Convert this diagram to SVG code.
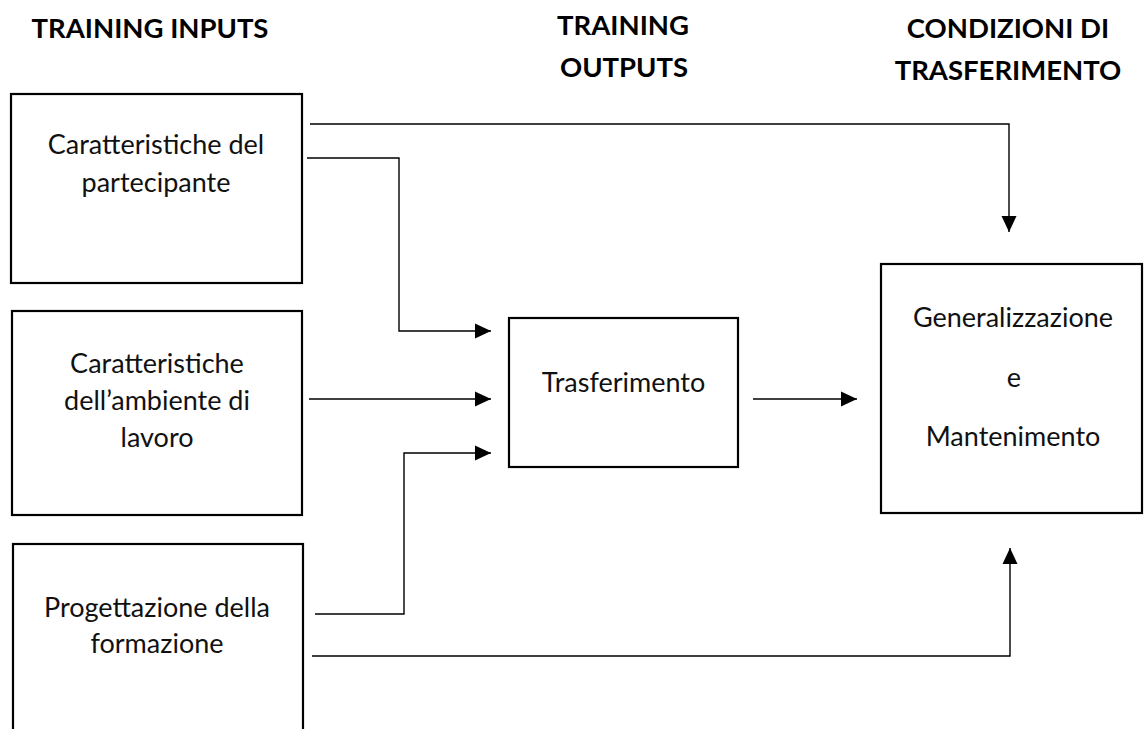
<svg xmlns="http://www.w3.org/2000/svg" width="1144" height="729" viewBox="0 0 1144 729">
<style>
.box{fill:#fff;stroke:#000;stroke-width:2.2}
.con{fill:none;stroke:#000;stroke-width:1.4}
.hdr{font-family:Lato,"Liberation Sans",sans-serif;font-weight:bold;font-size:27.5px;fill:#000;text-anchor:middle}
.lbl{font-family:Lato,"Liberation Sans",sans-serif;font-size:27px;fill:#111;text-anchor:middle}
</style>
<defs>
<marker id="ah" markerUnits="userSpaceOnUse" markerWidth="16" markerHeight="16" viewBox="0 0 16 16" refX="16" refY="8" orient="auto">
<path d="M0,0.5 L16,8 L0,15.5 Z" fill="#000"/>
</marker>
</defs>
<rect width="1144" height="729" fill="#fff"/>
<g id="headers">
<text class="hdr" x="150" y="38">TRAINING INPUTS</text>
<text class="hdr" x="623" y="35">TRAINING</text>
<text class="hdr" x="624" y="77">OUTPUTS</text>
<text class="hdr" x="1008" y="38">CONDIZIONI DI</text>
<text class="hdr" x="1008" y="80">TRASFERIMENTO</text>
</g>
<g id="connectors">
<path class="con" d="M310,124 H1009 V232" marker-end="url(#ah)"/>
<path class="con" d="M307,158 H399 V331 H491" marker-end="url(#ah)"/>
<path class="con" d="M309,399 H491" marker-end="url(#ah)"/>
<path class="con" d="M315,614 H404 V453 H491" marker-end="url(#ah)"/>
<path class="con" d="M312,656 H1010 V548" marker-end="url(#ah)"/>
<path class="con" d="M753,399 H857" marker-end="url(#ah)"/>
</g>
<g id="node-partecipante">
<rect class="box" x="11" y="94" width="291" height="189"/>
<text class="lbl" x="156" y="154">Caratteristiche del</text>
<text class="lbl" x="156" y="192">partecipante</text>
</g>
<g id="node-ambiente">
<rect class="box" x="12" y="311" width="290" height="204"/>
<text class="lbl" x="157" y="373">Caratteristiche</text>
<text class="lbl" x="157" y="410">dell’ambiente di</text>
<text class="lbl" x="157" y="447">lavoro</text>
</g>
<g id="node-progettazione">
<rect class="box" x="13" y="544" width="290" height="200"/>
<text class="lbl" x="157" y="617">Progettazione della</text>
<text class="lbl" x="157" y="653">formazione</text>
</g>
<g id="node-trasferimento">
<rect class="box" x="509" y="318" width="229" height="149"/>
<text class="lbl" x="623.5" y="392">Trasferimento</text>
</g>
<g id="node-generalizzazione">
<rect class="box" x="881" y="264" width="261" height="249"/>
<text class="lbl" x="1013" y="327">Generalizzazione</text>
<text class="lbl" x="1014" y="387">e</text>
<text class="lbl" x="1013" y="446">Mantenimento</text>
</g>
</svg>
